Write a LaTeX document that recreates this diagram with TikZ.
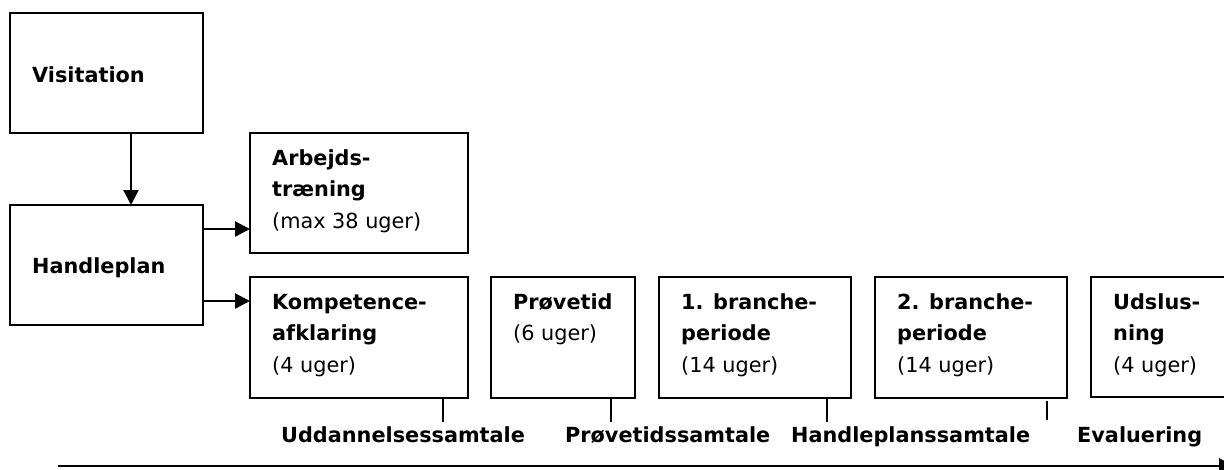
\documentclass[tikz,border=0pt]{standalone}
\usepackage{fontspec}
\setmainfont{DejaVu Sans}
\usetikzlibrary{arrows.meta}
\begin{document}
\begin{tikzpicture}[x=1pt,y=-1pt,
  box/.style={draw=black, line width=2.2pt, rectangle, anchor=north west, inner sep=0pt, outer sep=0pt},
  txt/.style={anchor=base west, inner sep=0pt, align=left, font=\fontsize{20.8}{31.5}\selectfont},
  lbl/.style={anchor=base west, inner sep=0pt, font=\fontsize{20.8}{24}\selectfont\bfseries},
  conn/.style={line width=2.2pt, -{Triangle[length=15pt,width=15pt]}},
  tick/.style={line width=2.2pt}]
\useasboundingbox (0,0) rectangle (1224,469);
% boxes
\node[box, minimum width=193pt, minimum height=120pt] (vis) at (10,13) {};
\node[box, minimum width=193pt, minimum height=120pt] (hp) at (10,205) {};
\node[box, minimum width=218pt, minimum height=120pt] (arb) at (250,133) {};
\node[box, minimum width=218pt, minimum height=121pt] (komp) at (250,277) {};
\node[box, minimum width=144pt, minimum height=121pt] (prov) at (491,277) {};
\node[box, minimum width=192pt, minimum height=121pt] (br1) at (659,277) {};
\node[box, minimum width=192pt, minimum height=121pt] (br2) at (875,277) {};
\node[box, minimum width=160pt, minimum height=120pt] (uds) at (1091,277) {};
% box texts (anchored at the baseline of the last line)
\node[txt] (vist) at (32,82) {\textbf{Visitation}};
\node[txt] (hpt) at (32,273) {\textbf{Handleplan}};
\node[txt] (arbt) at (272,228) {\textbf{Arbejds-}\\\textbf{træning}\\(max 38 uger)};
\node[txt] (kompt) at (272,372) {\textbf{Kompetence-}\\\textbf{afklaring}\\(4 uger)};
\node[txt] (provt) at (513,340.5) {\textbf{Prøvetid}\\(6 uger)};
\node[txt] (br1t) at (681,372) {\textbf{1. branche-}\\\textbf{periode}\\(14 uger)};
\node[txt] (br2t) at (897,372) {\textbf{2. branche-}\\\textbf{periode}\\(14 uger)};
\node[txt] (udst) at (1113,372) {\textbf{Udslus-}\\\textbf{ning}\\(4 uger)};
% connectors
\draw[conn] (vis.south -| 131,0) -- (hp.north -| 131,0);
\draw[conn] (hp.east |- 0,229) -- (arb.west |- 0,229);
\draw[conn] (hp.east |- 0,301) -- (komp.west |- 0,301);
% ticks
\coordinate (t1) at (443,422);
\coordinate (t2) at (611,422);
\coordinate (t3) at (827,422);
\coordinate (t4) at (1047,420);
\draw[tick] (komp.south -| t1) -- (t1);
\draw[tick] (prov.south -| t2) -- (t2);
\draw[tick] (br1.south -| t3) -- (t3);
\draw[tick] ([yshift=-3pt]br2.south -| t4) -- (t4);
% labels
\node[lbl] (l1) at (281,442) {Uddannelsessamtale};
\node[lbl] (l2) at (565,442) {Prøvetidssamtale};
\node[lbl] (l3) at (791,442) {Handleplanssamtale};
\node[lbl] (l4) at (1077,442) {Evaluering};
% time axis
\coordinate (a0) at (58,466);
\coordinate (a1) at (1234,466);
\draw[line width=2.8pt, -{Triangle[length=15pt,width=15pt]}] (a0) -- (a1);
\end{tikzpicture}
\end{document}
